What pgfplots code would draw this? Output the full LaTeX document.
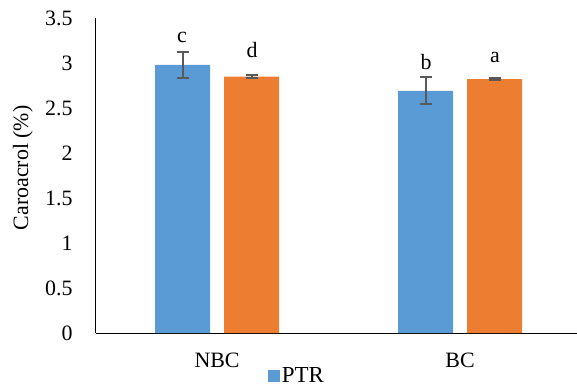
\documentclass[border=0pt]{standalone}
\usepackage{pgfplots}
\pgfplotsset{compat=1.18}
\usepackage{fontspec}
\setmainfont{Liberation Serif}
\definecolor{cblue}{HTML}{5B9BD5}
\definecolor{corange}{HTML}{ED7D31}
\definecolor{errc}{HTML}{595959}
\begin{document}
\begin{tikzpicture}
\begin{axis}[
  name=ax,
  scale only axis, width=481bp, height=315bp,
  xmin=-0.498, xmax=1.481, ymin=0, ymax=3.5,
  ybar=14bp, bar width=55bp,
  xtick={0,1}, xticklabels={NBC,BC},
  ytick={0,0.5,1,1.5,2,2.5,3,3.5},
  yticklabels={0,0.5,1,1.5,2,2.5,3,3.5},
  /pgf/number format/assume math mode=true,
  major tick length=0pt,
  axis lines*=left,
  axis line style={black, line width=1bp},
  tick label style={font=\rmfamily\fontsize{22}{26}\selectfont},
  yticklabel style={xshift=-20bp},
  xticklabel style={yshift=-16bp},
  ylabel={Caroacrol (\%)},
  ylabel style={font=\fontsize{22}{26}\selectfont, at={(axis description cs:-0.152,0.524)}, anchor=center},
  legend entries={PTR},
  legend style={at={(axis description cs:0.357,-0.135)}, anchor=west, draw=none, fill=none, inner sep=0pt,
    font=\fontsize{23}{26}\selectfont, nodes={inner sep=2bp}},
  legend image code/.code={\fill[#1] (0bp,-6bp) rectangle (12bp,6bp);},
]
\addplot[fill=cblue, draw=none,
  error bars/.cd, y dir=both, y explicit,
  error bar style={line width=2bp, errc},
  error mark options={rotate=90, mark size=6bp, line width=2bp, errc}]
  coordinates {(0,2.98) +- (0,0.145) (1,2.69) +- (0,0.15)};
\addplot[fill=corange, draw=none,
  error bars/.cd, y dir=both, y explicit,
  error bar style={line width=2bp, errc},
  error mark options={rotate=90, mark size=6bp, line width=2bp, errc}]
  coordinates {(0,2.85) +- (0,0.015) (1,2.82) +- (0,0.012)};
\node[font=\fontsize{22}{26}\selectfont, anchor=base] at (axis cs:-0.144,3.23) {c};
\node[font=\fontsize{22}{26}\selectfont, anchor=base] at (axis cs:0.144,3.06) {d};
\node[font=\fontsize{22}{26}\selectfont, anchor=base] at (axis cs:0.86,2.93) {b};
\node[font=\fontsize{22}{26}\selectfont, anchor=base] at (axis cs:1.144,3.01) {a};
\end{axis}
\pgfresetboundingbox
\path[use as bounding box] ([shift={(-96bp,-54bp)}]ax.south west) rectangle ([shift={(0bp,18bp)}]ax.north east);
\end{tikzpicture}
\end{document}
